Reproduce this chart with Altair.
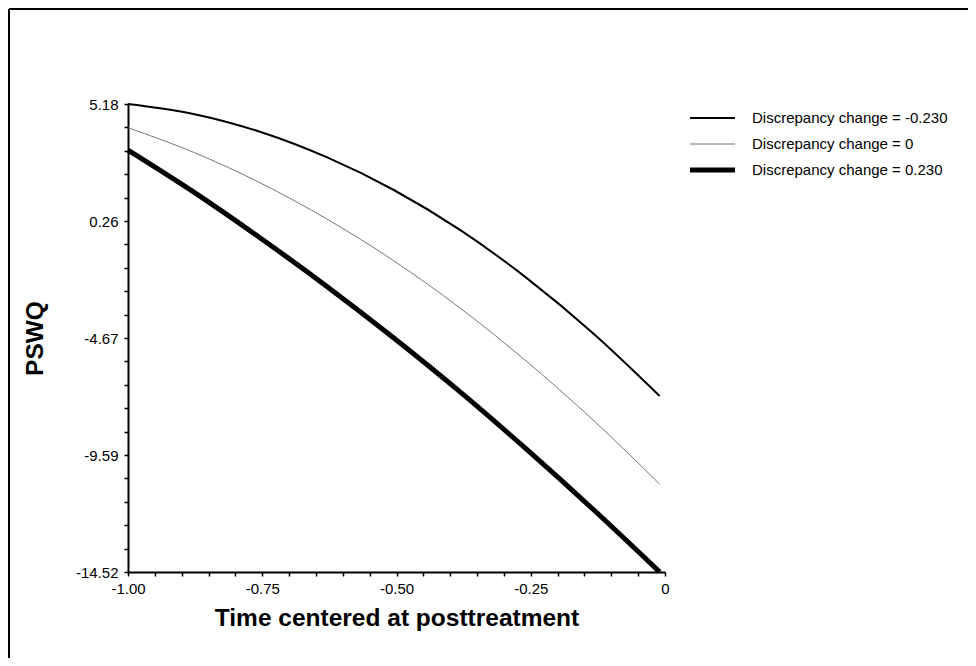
import altair as alt
import pandas as pd

# ---- data ----
time_vals = [-1.0, -0.876, -0.753, -0.629, -0.505, -0.381, -0.258, -0.134, -0.01]
series_names = [
    "Discrepancy change = -0.230",
    "Discrepancy change = 0",
    "Discrepancy change = 0.230",
]
pswq_neg = [5.18, 4.75, 4.00, 2.93, 1.56, -0.13, -2.14, -4.47, -7.11]
pswq_zero = [4.18, 3.13, 1.85, 0.33, -1.42, -3.42, -5.65, -8.12, -10.82]
pswq_pos = [3.24, 1.45, -0.47, -2.51, -4.67, -6.95, -9.35, -11.88, -14.52]

x_major = [-1.0, -0.75, -0.5, -0.25, 0.0]
x_major_labels = ["-1.00", "-0.75", "-0.50", "-0.25", "0"]
y_major = [-14.52, -9.595, -4.67, 0.255, 5.18]
y_major_labels = ["-14.52", "-9.59", "-4.67", "0.26", "5.18"]

rows = []
for name, vals in zip(series_names, [pswq_neg, pswq_zero, pswq_pos]):
    for t, v in zip(time_vals, vals):
        rows.append({"time": t, "pswq": v, "series": name})
df = pd.DataFrame(rows)
legend_df = pd.DataFrame({"series": series_names})

# tick positions (majors subdivided into minor steps)
x_ticks = []
for a, b in zip(x_major[:-1], x_major[1:]):
    for k in range(5):
        x_ticks.append(round(a + (b - a) * k / 5, 6))
x_ticks.append(x_major[-1])
y_ticks = []
for a, b in zip(y_major[:-1], y_major[1:]):
    for k in range(5):
        y_ticks.append(round(a + (b - a) * k / 5, 6))
y_ticks.append(y_major[-1])


def label_expr(vals, labels):
    expr = "''"
    for v, l in reversed(list(zip(vals, labels))):
        expr = f"abs(datum.value - ({v})) < 1e-6 ? '{l}' : ({expr})"
    return expr


FONT = "Liberation Sans"

color_scale = alt.Scale(domain=series_names, range=["black", "#666666", "black"])
width_scale = alt.Scale(type="ordinal", domain=series_names, range=[2, 0.9, 5])

lines = alt.Chart(df).mark_line(interpolate="monotone").encode(
    x=alt.X("time:Q", scale=alt.Scale(domain=[-1, 0], nice=False, zero=False),
            axis=alt.Axis(values=x_ticks, labelExpr=label_expr(x_major, x_major_labels),
                          title="Time centered at posttreatment", titleFontSize=24.5,
                          titleFont=FONT, titleFontWeight="bold", titleColor="black",
                          titleY=46, titleBaseline="middle",
                          labelFont=FONT, labelFontSize=15, labelColor="black",
                          labelPadding=5, tickSize=4, tickWidth=1.5, tickColor="black",
                          domainWidth=2, domainColor="black", grid=False, labelFlush=False,
                          labelOverlap=False)),
    y=alt.Y("pswq:Q", scale=alt.Scale(domain=[-14.52, 5.18], nice=False, zero=False),
            axis=alt.Axis(values=y_ticks, labelExpr=label_expr(y_major, y_major_labels),
                          title="PSWQ", titleFontSize=24.5, titleFont=FONT,
                          titleFontWeight="bold", titleColor="black",
                          titleX=-93, titleY=234, titleAngle=-90, titleAlign="center",
                          titleBaseline="middle",
                          labelFont=FONT, labelFontSize=15, labelColor="black",
                          labelPadding=6, tickSize=4, tickWidth=1.5, tickColor="black",
                          domainWidth=2, domainColor="black", grid=False, labelFlush=False,
                          labelOverlap=False)),
    color=alt.Color("series:N", scale=color_scale, legend=None),
    strokeWidth=alt.StrokeWidth("series:N", scale=width_scale, legend=None),
    order=alt.Order("time:Q"),
)

# legend drawn as its own layer
leg_y = alt.Y("series:N", scale=alt.Scale(type="point", domain=series_names,
                                          range=[14, 66], padding=0), axis=None)
legend_lines = alt.Chart(legend_df).mark_rule().encode(
    x=alt.value(562), x2=alt.value(607), y=leg_y,
    color=alt.Color("series:N", scale=color_scale, legend=None),
    strokeWidth=alt.StrokeWidth("series:N", scale=width_scale, legend=None),
)
legend_text = alt.Chart(legend_df).mark_text(
    align="left", baseline="middle", font=FONT, fontSize=15, color="black"
).encode(x=alt.value(624), y=leg_y, text="series:N")

frame = pd.DataFrame({"k": [0]})
border_left = alt.Chart(frame).mark_rule(color="black", strokeWidth=2).encode(
    x=alt.value(-119), y=alt.value(-95), y2=alt.value(560))
border_top = alt.Chart(frame).mark_rule(color="black", strokeWidth=2).encode(
    x=alt.value(-119), x2=alt.value(845), y=alt.value(-95))

chart = alt.layer(lines, legend_lines, legend_text, border_left, border_top).resolve_scale(
    y="independent"
).properties(
    width=537, height=468,
    padding={"left": 120, "top": 96, "right": 303, "bottom": 86},
    autosize=alt.AutoSizeParams(type="none"),
    background="white",
).configure_view(stroke=None)

chart.save("out.html", embed_options={"renderer": "svg", "actions": False})
